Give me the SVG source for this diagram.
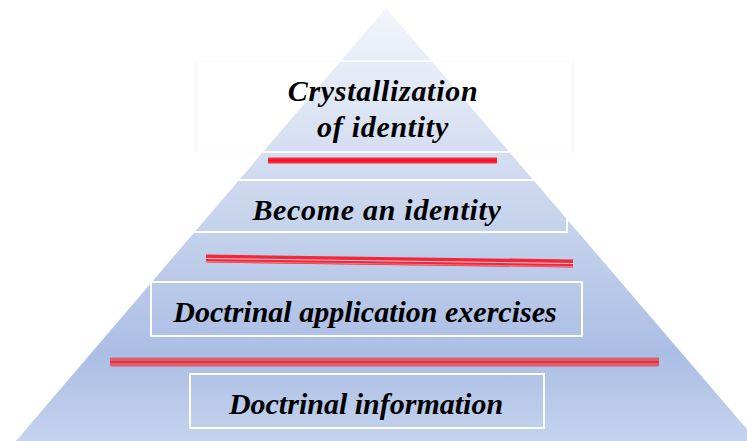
<svg xmlns="http://www.w3.org/2000/svg" width="747" height="441" viewBox="0 0 747 441">
<defs>
<linearGradient id="pg" gradientUnits="userSpaceOnUse" x1="0" y1="8" x2="0" y2="441">
<stop offset="0" stop-color="#f3f5fb"/>
<stop offset="0.35" stop-color="#d3ddf0"/>
<stop offset="0.8" stop-color="#abbee4"/>
<stop offset="1" stop-color="#c4d3ee"/>
</linearGradient>
</defs>
<style>
.lbl{font-family:"Liberation Serif","Times New Roman",serif;font-style:italic;font-weight:bold;font-size:30px;fill:#000;text-anchor:middle}
.wide{letter-spacing:0.7px}
.box{fill:none;stroke:#ffffff;stroke-width:2}
.red1{stroke:#ee3040;stroke-width:6}
.pink{stroke:#d9606f;stroke-width:9}
</style>
<rect width="747" height="441" fill="#ffffff"/>
<g id="pyramid">
<polygon points="386,8 16,441 757,441" fill="url(#pg)"/>
</g>
<g id="connectors">
<line class="red1" x1="268" y1="160.5" x2="497" y2="160.5"/>
<line x1="268" y1="160.5" x2="497" y2="160.5" stroke="#ff0a1a" stroke-width="2"/>
<line x1="206" y1="258.5" x2="573" y2="263.5" stroke="#f0283a" stroke-width="8"/>
<line x1="206" y1="258.5" x2="573" y2="263.5" stroke="#ffc8cc" stroke-width="1"/>
<line x1="206" y1="261.5" x2="573" y2="266.5" stroke="#ffc8cc" stroke-width="0.8" opacity="0.6"/>
<line class="pink" x1="110" y1="362" x2="659" y2="362"/>
<line x1="110" y1="362" x2="659" y2="362" stroke="#f01828" stroke-width="1.5"/>
</g>
<g id="node1">
<rect x="196" y="61" width="377" height="91" fill="none" stroke="#f2f2f2" stroke-width="1.2"/>
<line x1="196" y1="61" x2="573" y2="61" stroke="#ffffff" stroke-width="2" opacity="0.8"/>
<line x1="196" y1="152" x2="573" y2="152" stroke="#ffffff" stroke-width="2" opacity="0.8"/>
<text class="lbl wide" x="383" y="101">Crystallization</text>
<text class="lbl wide" x="383" y="137">of identity</text>
</g>
<g id="node2">
<rect class="box" x="190" y="180" width="377" height="52"/>
<text class="lbl wide" x="377" y="220">Become an identity</text>
</g>
<g id="node3">
<rect class="box" x="151" y="282" width="431" height="54"/>
<text class="lbl" x="365" y="322">Doctrinal application exercises</text>
</g>
<g id="node4">
<rect class="box" x="190" y="374" width="354" height="54"/>
<text class="lbl" x="366" y="414">Doctrinal information</text>
</g>
</svg>
